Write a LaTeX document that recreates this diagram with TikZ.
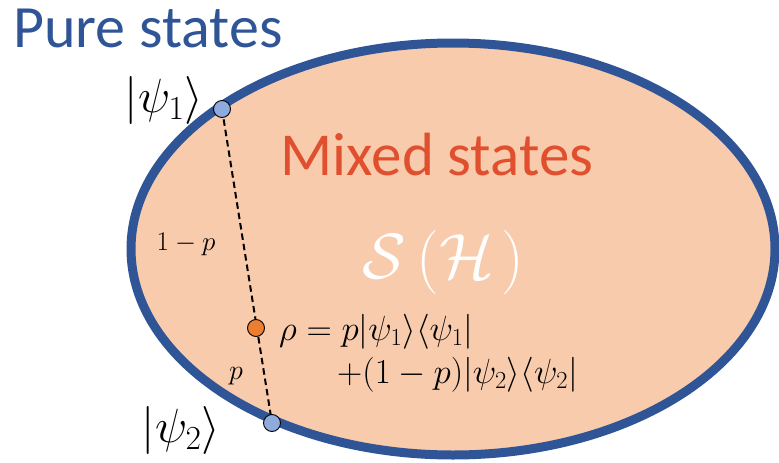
\RequirePackage{fix-cm}
\documentclass[tikz,border=0pt]{standalone}
\usepackage{amsmath}
\usepackage{fontspec}
\setmainfont{Carlito}
\definecolor{peach}{HTML}{F8CBAD}
\definecolor{rim}{HTML}{2F5597}
\definecolor{dotblue}{HTML}{8FAADC}
\definecolor{dotorange}{HTML}{ED7D31}
\definecolor{mixred}{HTML}{E0502F}
\begin{document}
\begin{tikzpicture}[x=1pt,y=-1pt,
  dot/.style={circle,draw=black,line width=0.9pt,minimum size=17pt,inner sep=0pt},
  puredot/.style={dot,fill=dotblue},
  mixdot/.style={dot,fill=dotorange},
  lbl/.style={inner sep=0pt},
  conn/.style={dashed,line width=2pt,dash pattern=on 6.5pt off 4pt}]
\useasboundingbox (0,0) rectangle (779,463);
\path[fill=peach,draw=rim,line width=9pt] (453,249) ellipse [x radius=322, y radius=206];
\coordinate (c1) at (222,109);
\coordinate (c2) at (272,423);
\coordinate (cr) at (256,328);
\draw[conn] (c1) -- (c2);
\node[puredot] (p1) at (c1) {};
\node[puredot] (p2) at (c2) {};
\node[mixdot] (rho) at (cr) {};
\node[lbl,anchor=base west,text=rim] (t1) at (13,47) {\fontsize{60}{66}\selectfont Pure states};
\node[lbl,anchor=base,text=mixred] (t2) at (437,175) {\fontsize{61}{66}\selectfont Mixed states};
\node[lbl,text=white] (s) at (443,262) {\fontsize{64}{70}\selectfont $\mathcal{S}\mkern3mu(\mathcal{H}\mkern2mu)$};
\node[lbl] (k1) at (164,100) {\fontsize{48}{52}\selectfont $|\psi_1\rangle$};
\node[lbl] (k2) at (181,430) {\fontsize{48}{52}\selectfont $|\psi_2\rangle$};
\node[lbl] (a) at (186,244) {\fontsize{27}{30}\selectfont $1-p$};
\node[lbl] (b) at (236,376) {\fontsize{28}{30}\selectfont $p$};
\node[lbl,anchor=north west,align=left,font=\fontsize{35}{43}\selectfont] (f) at (279,314)
  {$\rho = p|\psi_1\rangle\langle\psi_1|$\\\hspace*{58pt}$+(1-p)|\psi_2\rangle\langle\psi_2|$};
\end{tikzpicture}
\end{document}
